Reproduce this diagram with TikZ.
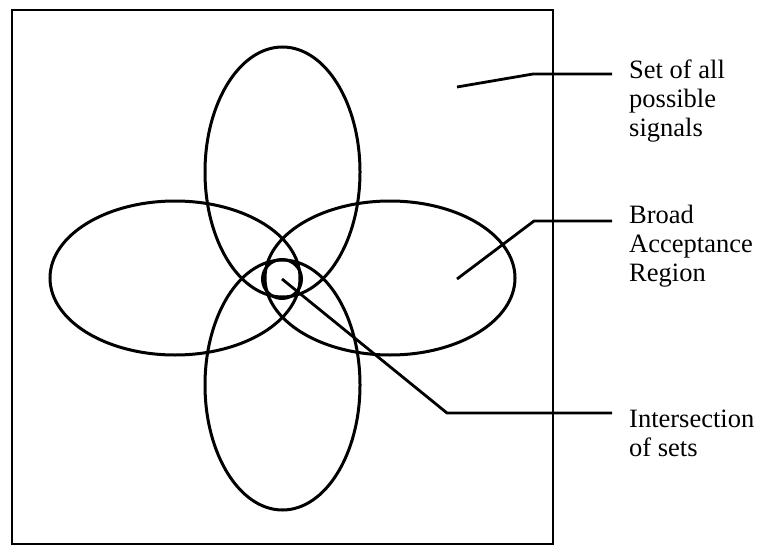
\documentclass[tikz,border=0pt]{standalone}
\usepackage{fontspec}
\setmainfont{Liberation Serif}
\usetikzlibrary{calc,positioning}
\newcommand\lblfont{\fontsize{26.5}{29}\selectfont}

\begin{document}
\begin{tikzpicture}[x=1pt,y=-1pt,
    set/.style={line width=3pt},
    lead/.style={line width=2.8pt},
    lbl/.style={font=\lblfont,align=left,anchor=north west,inner sep=0pt}]
  \useasboundingbox (0,0) rectangle (759,548);
  \draw[line width=2.8pt] (12,10) rectangle (553,544);
  \coordinate (T) at (282.5,172);
  \coordinate (D) at (282.5,385);
  \coordinate (L) at (175,278);
  \coordinate (R) at (390,278);
  \coordinate (C) at (282,279);
  \draw[set] (T) ellipse [x radius=77.5,y radius=125];
  \draw[set] (D) ellipse [x radius=77.5,y radius=125];
  \draw[set] (L) ellipse [x radius=125,y radius=77];
  \draw[set] (R) ellipse [x radius=125,y radius=77];
  \draw[set] (C) circle [radius=19.5];
  \coordinate (S0) at (457,87);
  \coordinate (S1) at (533,74);
  \coordinate (S2) at (612,74);
  \coordinate (B0) at (457,279);
  \coordinate (B1) at (534,221);
  \coordinate (B2) at (612,221);
  \coordinate (I1) at (447,413);
  \coordinate (I2) at (612,413);
  \draw[lead] (S0)--(S1)--(S2);
  \draw[lead] (B0)--(B1)--(B2);
  \draw[lead] (C)--(I1)--(I2);
  \node[lbl] (sig) at (629,60) {Set of all\\possible\\signals};
  \node[lbl] (bar) at (629,205) {Broad\\Acceptance\\Region};
  \node[lbl] (int) at (629,409.5) {Intersection\\of sets};
\end{tikzpicture}
\end{document}
